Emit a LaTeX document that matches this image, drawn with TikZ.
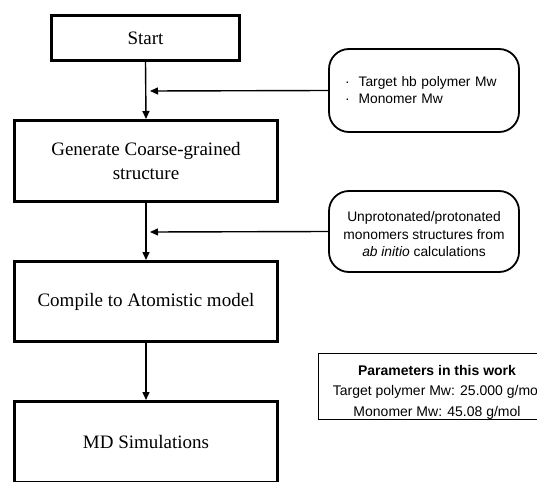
\documentclass[tikz,border=0pt]{standalone}
\usepackage{fontspec}
\setmainfont{Liberation Serif}
\newfontfamily\sansf{Liberation Sans}
\usetikzlibrary{arrows.meta}
\tikzset{
  stepbox/.style={draw, line width=3pt, minimum width=263pt, inner sep=0pt, align=center,
    font=\fontsize{19}{24}\selectfont},
  startbox/.style={stepbox, minimum width=188pt, minimum height=45pt},
  inbox/.style={draw, line width=1.8pt, rounded corners=20pt, minimum width=190pt, inner sep=0pt,
    font=\sansf\fontsize{13.8}{17}\selectfont},
  intext/.style={align=center, inner sep=0pt, font=\sansf\fontsize{13.8}{17.5}\selectfont},
  parbox/.style={draw, line width=1.2pt, minimum width=237pt, minimum height=66pt, inner sep=0pt},
  partext/.style={align=center, inner sep=0pt, font=\sansf\fontsize{14}{20.5}\selectfont},
  flow/.style={line width=1.4pt, -{Triangle[length=8pt,width=7pt]}}
}
\begin{document}
\begin{tikzpicture}[x=1pt,y=-1pt]
\useasboundingbox (0,0) rectangle (537,481);
\node[startbox] (start) at (145.5,38) {Start};
\node[stepbox, minimum height=81pt] (gen) at (146,161) {Generate Coarse-grained\\structure};
\node[stepbox, minimum height=80pt] (comp) at (146,301.5) {Compile to Atomistic model};
\node[stepbox, minimum height=81pt] (md) at (146,442) {MD Simulations};
\node[inbox, minimum height=83pt, align=left, text width=158pt] (in1) at (424,90.5)
  {·\hspace{9pt}Target hb polymer Mw\\·\hspace{9pt}Monomer Mw};
\node[inbox, minimum height=81pt] (in2) at (424,231.5) {};
\node[intext] (in2txt) at (424,234.5)
  {Unprotonated/protonated\\monomers structures from\\\textit{ab initio} calculations};
\node[parbox] (par) at (437,386.5) {};
\node[partext] (partxt) at (437,392)
  {\textbf{Parameters in this work}\\Target polymer Mw: 25.000 g/mol\\Monomer Mw: 45.08 g/mol};
\coordinate (a1) at (150,91);
\coordinate (a2) at (150,232);
\draw[flow] (start.south) -- (gen.north);
\draw[flow] (gen.south) -- (comp.north);
\draw[flow] (comp.south) -- (md.north);
\draw[flow] (in1.west) -- (a1);
\draw[flow] (in2.west) -- (a2);
\end{tikzpicture}
\end{document}
